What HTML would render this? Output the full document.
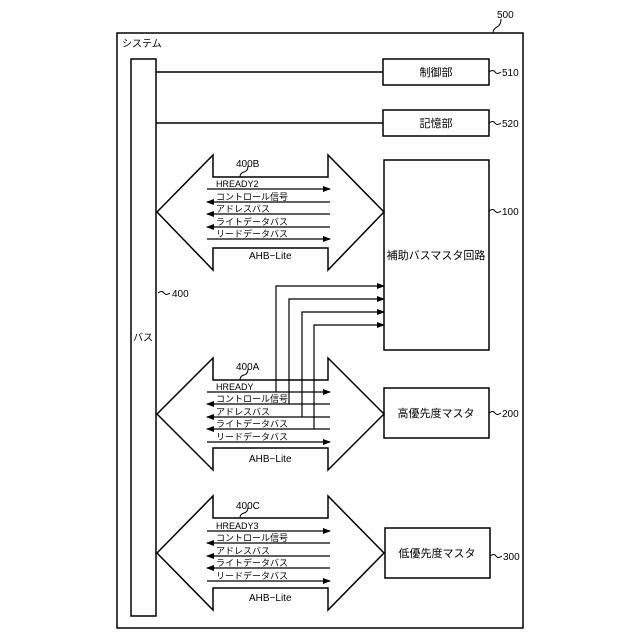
<!DOCTYPE html>
<html><head><meta charset="utf-8"><style>
html,body{margin:0;padding:0;background:#fff}
svg{display:block}
text{font-family:"Liberation Sans","Noto Sans CJK JP",sans-serif;fill:#000}
</style></head><body>
<svg width="640" height="640" viewBox="0 0 640 640" xmlns="http://www.w3.org/2000/svg">
<defs>
<marker id="ar" markerWidth="8" markerHeight="6" refX="7" refY="3" orient="auto" markerUnits="userSpaceOnUse">
<path d="M0,0 L8,3 L0,6 z" fill="#000"/></marker>
</defs>
<g fill="none" stroke="#000" stroke-width="1.5">
<rect x="117" y="33" width="406" height="595"/>
<path d="M493,33 q0,-4 4,-6 q4,-2 4,-8" stroke-width="1"/>
<rect x="131" y="59" width="25" height="557"/>
<line x1="156" y1="72" x2="383" y2="72"/>
<line x1="156" y1="123" x2="383" y2="123"/>
<rect x="383" y="59" width="106" height="26"/>
<rect x="383" y="110" width="106" height="26"/>
<rect x="384" y="160" width="105" height="190"/>
<rect x="384" y="388" width="105" height="50"/>
<rect x="385" y="528" width="105" height="50"/>
<polygon points="157,212 213,155 213,177 328,177 328,155 384,212 328,270 328,248 213,248 213,270"/>
<polygon points="157,414 213,358 213,380 328,380 328,358 384,414 328,470 328,448 213,448 213,470"/>
<polygon points="157,553 213,496 213,518 328,518 328,496 384,553 328,610 328,588 213,588 213,610"/>
</g>
<g fill="none" stroke="#000" stroke-width="1">
<path d="M240,177 q0,-4 4,-5 q4,-1 4,-6"/>
<path d="M240,380 q0,-4 4,-5 q4,-1 4,-6"/>
<path d="M240,518 q0,-4 4,-5 q4,-1 4,-6"/>
<path d="M489,72 q4,-3 6,0 q2,3 6,0"/>
<path d="M489,123 q4,-3 6,0 q2,3 6,0"/>
<path d="M489,211 q4,-3 6,0 q2,3 6,0"/>
<path d="M489,413 q4,-3 6,0 q2,3 6,0"/>
<path d="M490,556 q4,-3 6,0 q2,3 6,0"/>
<path d="M158,293 q4,-3 6,0 q2,3 6,0"/>
</g>
<g stroke="#000" stroke-width="1.2" fill="none">
<!-- B -->
<line x1="207" y1="189" x2="330" y2="189" marker-end="url(#ar)"/>
<line x1="330" y1="202" x2="207" y2="202" marker-end="url(#ar)"/>
<line x1="330" y1="214" x2="207" y2="214" marker-end="url(#ar)"/>
<line x1="330" y1="227" x2="207" y2="227" marker-end="url(#ar)"/>
<line x1="207" y1="239" x2="330" y2="239" marker-end="url(#ar)"/>
<!-- A -->
<line x1="207" y1="392" x2="330" y2="392" marker-end="url(#ar)"/>
<line x1="330" y1="404" x2="207" y2="404" marker-end="url(#ar)"/>
<line x1="330" y1="417" x2="207" y2="417" marker-end="url(#ar)"/>
<line x1="330" y1="429" x2="207" y2="429" marker-end="url(#ar)"/>
<line x1="207" y1="442" x2="330" y2="442" marker-end="url(#ar)"/>
<!-- C -->
<line x1="207" y1="531" x2="330" y2="531" marker-end="url(#ar)"/>
<line x1="330" y1="543" x2="207" y2="543" marker-end="url(#ar)"/>
<line x1="330" y1="556" x2="207" y2="556" marker-end="url(#ar)"/>
<line x1="330" y1="568" x2="207" y2="568" marker-end="url(#ar)"/>
<line x1="207" y1="581" x2="330" y2="581" marker-end="url(#ar)"/>
<!-- taps -->
<polyline points="276,392 276,286 384,286" marker-end="url(#ar)"/>
<polyline points="289,404 289,299 384,299" marker-end="url(#ar)"/>
<polyline points="302,417 302,312 384,312" marker-end="url(#ar)"/>
<polyline points="314,429 314,325 384,325" marker-end="url(#ar)"/>
</g>
<g font-size="9">
<text x="216" y="187">HREADY2</text>
<text x="216" y="200">コントロール信号</text>
<text x="216" y="212">アドレスバス</text>
<text x="216" y="225">ライトデータバス</text>
<text x="216" y="237">リードデータバス</text>
<text x="216" y="390">HREADY</text>
<text x="216" y="402">コントロール信号</text>
<text x="216" y="415">アドレスバス</text>
<text x="216" y="427">ライトデータバス</text>
<text x="216" y="440">リードデータバス</text>
<text x="216" y="529">HREADY3</text>
<text x="216" y="541">コントロール信号</text>
<text x="216" y="554">アドレスバス</text>
<text x="216" y="566">ライトデータバス</text>
<text x="216" y="579">リードデータバス</text>
</g>
<g font-size="10">
<text x="236" y="167">400B</text>
<text x="236" y="370">400A</text>
<text x="236" y="509">400C</text>
<text x="249" y="259">AHB−Lite</text>
<text x="249" y="462">AHB−Lite</text>
<text x="249" y="601">AHB−Lite</text>
<text x="497" y="18">500</text>
<text x="502" y="76">510</text>
<text x="502" y="127">520</text>
<text x="502" y="215">100</text>
<text x="502" y="417">200</text>
<text x="503" y="560">300</text>
<text x="172" y="297">400</text>
<text x="122" y="47">システム</text>
<text x="133" y="341">バス</text>
</g>
<g font-size="11" text-anchor="middle">
<text x="436" y="76">制御部</text>
<text x="436" y="127">記憶部</text>
<text x="436" y="259">補助バスマスタ回路</text>
<text x="436" y="417">高優先度マスタ</text>
<text x="437" y="557">低優先度マスタ</text>
</g>
</svg>
</body></html>
